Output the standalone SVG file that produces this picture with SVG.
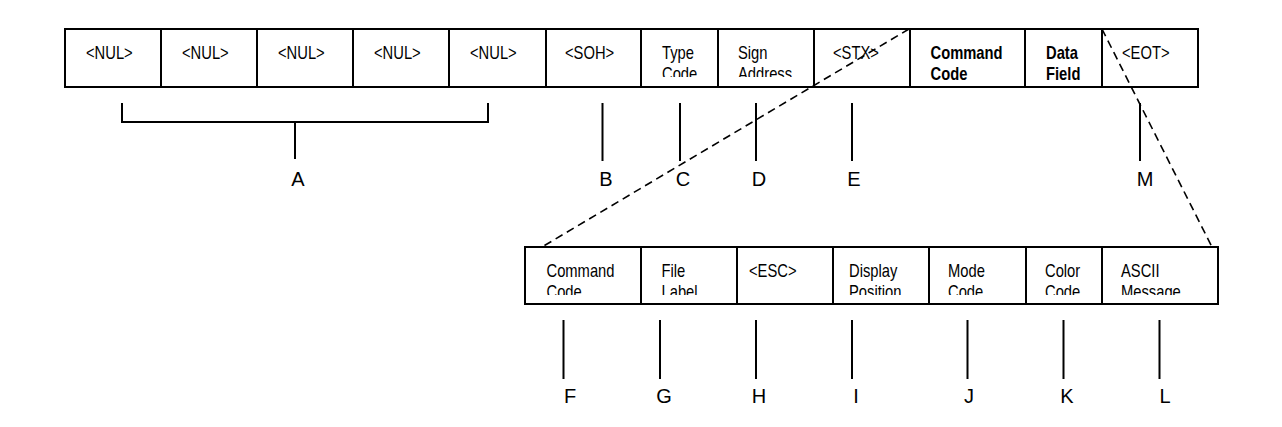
<svg xmlns="http://www.w3.org/2000/svg" width="1282" height="427" viewBox="0 0 1282 427">
<style>
.cell{fill:#fff;stroke:#000;stroke-width:2}
.t{font-family:"Liberation Sans",Arial,sans-serif;font-size:18px;fill:#000}
.b{font-weight:bold}
.lab{font-family:"Liberation Sans",Arial,sans-serif;font-size:20px;fill:#000;text-anchor:middle}
.stem{stroke:#000;stroke-width:2;fill:none}
.dash{stroke:#000;stroke-width:1.6;stroke-dasharray:8,5;fill:none}
</style>
<defs>
<clipPath id="clipTop"><rect x="0" y="29" width="1282" height="48"/></clipPath>
<clipPath id="clipBot"><rect x="0" y="247" width="1282" height="48"/></clipPath>
</defs>
<rect width="1282" height="427" fill="#fff"/>

<g id="top-row">
<g id="nul1"><rect class="cell" x="65" y="29" width="96" height="58"/><text class="t" transform="translate(86,58.7) scale(.82,1)">&lt;NUL&gt;</text></g>
<g id="nul2"><rect class="cell" x="161" y="29" width="96" height="58"/><text class="t" transform="translate(182,58.7) scale(.82,1)">&lt;NUL&gt;</text></g>
<g id="nul3"><rect class="cell" x="257" y="29" width="96" height="58"/><text class="t" transform="translate(278,58.7) scale(.82,1)">&lt;NUL&gt;</text></g>
<g id="nul4"><rect class="cell" x="353" y="29" width="96" height="58"/><text class="t" transform="translate(374,58.7) scale(.82,1)">&lt;NUL&gt;</text></g>
<g id="nul5"><rect class="cell" x="449" y="29" width="97" height="58"/><text class="t" transform="translate(470,58.7) scale(.82,1)">&lt;NUL&gt;</text></g>
<g id="soh"><rect class="cell" x="546" y="29" width="95" height="58"/><text class="t" transform="translate(565,58.7) scale(.82,1)">&lt;SOH&gt;</text></g>
<g id="type-code"><rect class="cell" x="641" y="29" width="77" height="58"/><g clip-path="url(#clipTop)"><text class="t" transform="translate(662,58.7) scale(.82,1)"><tspan x="0" y="0">Type</tspan><tspan x="0" y="21">Code</tspan></text></g></g>
<g id="sign-address"><rect class="cell" x="718" y="29" width="96" height="58"/><g clip-path="url(#clipTop)"><text class="t" transform="translate(738,58.7) scale(.82,1)"><tspan x="0" y="0">Sign</tspan><tspan x="0" y="21">Address</tspan></text></g></g>
<g id="stx"><rect class="cell" x="814" y="29" width="96" height="58"/><text class="t" transform="translate(833,58.7) scale(.82,1)">&lt;STX&gt;</text></g>
<g id="command-code"><rect class="cell" x="910" y="29" width="115" height="58"/><text class="t b" transform="translate(930.5,58.7) scale(.82,1)"><tspan x="0" y="0">Command</tspan><tspan x="0" y="21">Code</tspan></text></g>
<g id="data-field"><rect class="cell" x="1025" y="29" width="77" height="58"/><text class="t b" transform="translate(1046,58.7) scale(.82,1)"><tspan x="0" y="0">Data</tspan><tspan x="0" y="21">Field</tspan></text></g>
<g id="eot"><rect class="cell" x="1102" y="29" width="96" height="58"/><text class="t" transform="translate(1122,58.7) scale(.82,1)">&lt;EOT&gt;</text></g>
</g>

<g id="bottom-row">
<g id="cmd2"><rect class="cell" x="525" y="247" width="116" height="57"/><g clip-path="url(#clipBot)"><text class="t" transform="translate(546.5,276.7) scale(.82,1)"><tspan x="0" y="0">Command</tspan><tspan x="0" y="21">Code</tspan></text></g></g>
<g id="file-label"><rect class="cell" x="641" y="247" width="96" height="57"/><g clip-path="url(#clipBot)"><text class="t" transform="translate(661.5,276.7) scale(.82,1)"><tspan x="0" y="0">File</tspan><tspan x="0" y="21">Label</tspan></text></g></g>
<g id="esc"><rect class="cell" x="737" y="247" width="96" height="57"/><text class="t" transform="translate(749,276.7) scale(.82,1)">&lt;ESC&gt;</text></g>
<g id="display-position"><rect class="cell" x="833" y="247" width="96" height="57"/><g clip-path="url(#clipBot)"><text class="t" transform="translate(849,276.7) scale(.82,1)"><tspan x="0" y="0">Display</tspan><tspan x="0" y="21">Position</tspan></text></g></g>
<g id="mode-code"><rect class="cell" x="929" y="247" width="97" height="57"/><g clip-path="url(#clipBot)"><text class="t" transform="translate(948,276.7) scale(.82,1)"><tspan x="0" y="0">Mode</tspan><tspan x="0" y="21">Code</tspan></text></g></g>
<g id="color-code"><rect class="cell" x="1026" y="247" width="76" height="57"/><g clip-path="url(#clipBot)"><text class="t" transform="translate(1045,276.7) scale(.82,1)"><tspan x="0" y="0">Color</tspan><tspan x="0" y="21">Code</tspan></text></g></g>
<g id="ascii-message"><rect class="cell" x="1102" y="247" width="116" height="57"/><g clip-path="url(#clipBot)"><text class="t" transform="translate(1121,276.7) scale(.82,1)"><tspan x="0" y="0">ASCII</tspan><tspan x="0" y="21">Message</tspan></text></g></g>
</g>

<g id="connectors">
<path class="stem" d="M122,103 V122 H488 V103 M295,122 V159"/>
<path class="stem" d="M602.5,103 V161 M680,103 V161 M756,103 V161 M852,103 V161 M1140,103 V161"/>
<path class="stem" d="M563.5,320 V379 M660,320 V379 M756,320 V379 M852,320 V379 M967.5,320 V379 M1063.5,320 V379 M1159.5,320 V379"/>
<line class="dash" x1="909" y1="29" x2="542" y2="247"/>
<line class="dash" x1="1102" y1="29" x2="1212" y2="247"/>
</g>

<g id="labels">
<text class="lab" x="298" y="186">A</text>
<text class="lab" x="606" y="186">B</text>
<text class="lab" x="683" y="186">C</text>
<text class="lab" x="759" y="186">D</text>
<text class="lab" x="854" y="186">E</text>
<text class="lab" x="1145" y="186">M</text>
<text class="lab" x="570" y="403">F</text>
<text class="lab" x="664" y="403">G</text>
<text class="lab" x="759" y="403">H</text>
<text class="lab" x="856" y="403">I</text>
<text class="lab" x="969" y="403">J</text>
<text class="lab" x="1067" y="403">K</text>
<text class="lab" x="1165" y="403">L</text>
</g>
</svg>
